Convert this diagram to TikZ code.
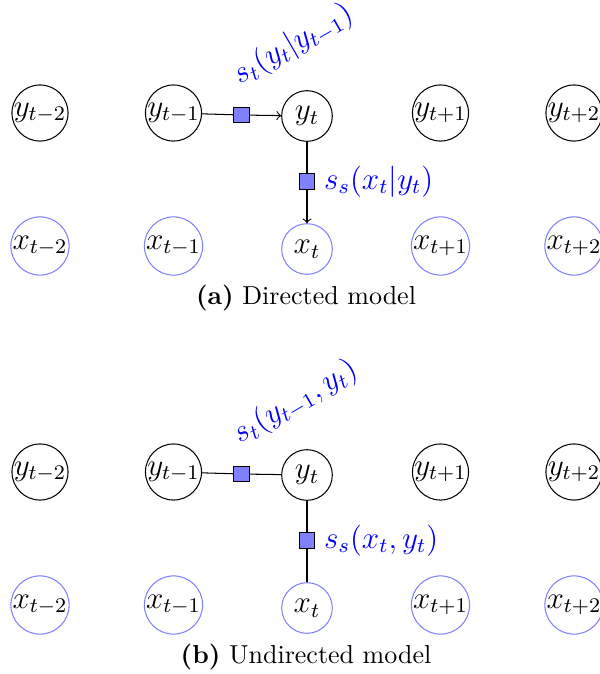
\documentclass[tikz,border=0pt]{standalone}
\tikzset{
  latent/.style={circle,draw,inner sep=0pt,minimum size=19.5pt,font=\large},
  obs/.style={latent,draw=blue!50},
  factor/.style={rectangle,draw,fill=blue!50,inner sep=0pt,minimum size=5.8pt},
  flabel/.style={text=blue,font=\large},
}
\begin{document}
\begin{tikzpicture}[x=0.385pt,y=-0.385pt]
  \useasboundingbox (0,0) rectangle (600,674);
  % (a) directed model
  \node[latent] (ya1) at (40,113) {$y_{t-2}$};
  \node[latent] (ya2) at (173.5,113) {$y_{t-1}$};
  \node[latent] (ya3) at (307,116) {$y_t$};
  \node[latent] (ya4) at (440.5,113) {$y_{t+1}$};
  \node[latent] (ya5) at (574,113) {$y_{t+2}$};
  \node[obs] (xa1) at (40,246) {$x_{t-2}$};
  \node[obs] (xa2) at (173.5,246) {$x_{t-1}$};
  \node[obs] (xa3) at (307,249) {$x_t$};
  \node[obs] (xa4) at (440.5,246) {$x_{t+1}$};
  \node[obs] (xa5) at (574,246) {$x_{t+2}$};
  \node[factor] (fa1) at (241.5,115) {};
  \node[factor] (fa2) at (307,181.5) {};
  \draw (ya2) -- (fa1);
  \draw[->] (fa1) -- (ya3);
  \draw (ya3) -- (fa2);
  \draw[->] (fa2) -- (xa3);
  \node[flabel,rotate=30,anchor=south west,inner sep=2pt] (la1) at ([yshift=3pt]fa1.north) {$s_t(y_t|y_{t-1})$};
  \node[flabel,right] (la2) at (fa2.east) {$s_s(x_t|y_t)$};
  \node (capa) at (306,298) {\textbf{(a)} Directed model};
  % (b) undirected model
  \node[latent] (yb1) at (40,472) {$y_{t-2}$};
  \node[latent] (yb2) at (173.5,472) {$y_{t-1}$};
  \node[latent] (yb3) at (307,475) {$y_t$};
  \node[latent] (yb4) at (440.5,472) {$y_{t+1}$};
  \node[latent] (yb5) at (574,472) {$y_{t+2}$};
  \node[obs] (xb1) at (40,605) {$x_{t-2}$};
  \node[obs] (xb2) at (173.5,605) {$x_{t-1}$};
  \node[obs] (xb3) at (307,608) {$x_t$};
  \node[obs] (xb4) at (440.5,605) {$x_{t+1}$};
  \node[obs] (xb5) at (574,605) {$x_{t+2}$};
  \node[factor] (fb1) at (241.5,474) {};
  \node[factor] (fb2) at (307,540.5) {};
  \draw (yb2) -- (fb1) -- (yb3);
  \draw (yb3) -- (fb2) -- (xb3);
  \node[flabel,rotate=30,anchor=south west,inner sep=2pt] (lb1) at ([yshift=3pt]fb1.north) {$s_t(y_{t-1},y_t)$};
  \node[flabel,right] (lb2) at (fb2.east) {$s_s(x_t,y_t)$};
  \node (capb) at (306,657) {\textbf{(b)} Undirected model};
\end{tikzpicture}
\end{document}
